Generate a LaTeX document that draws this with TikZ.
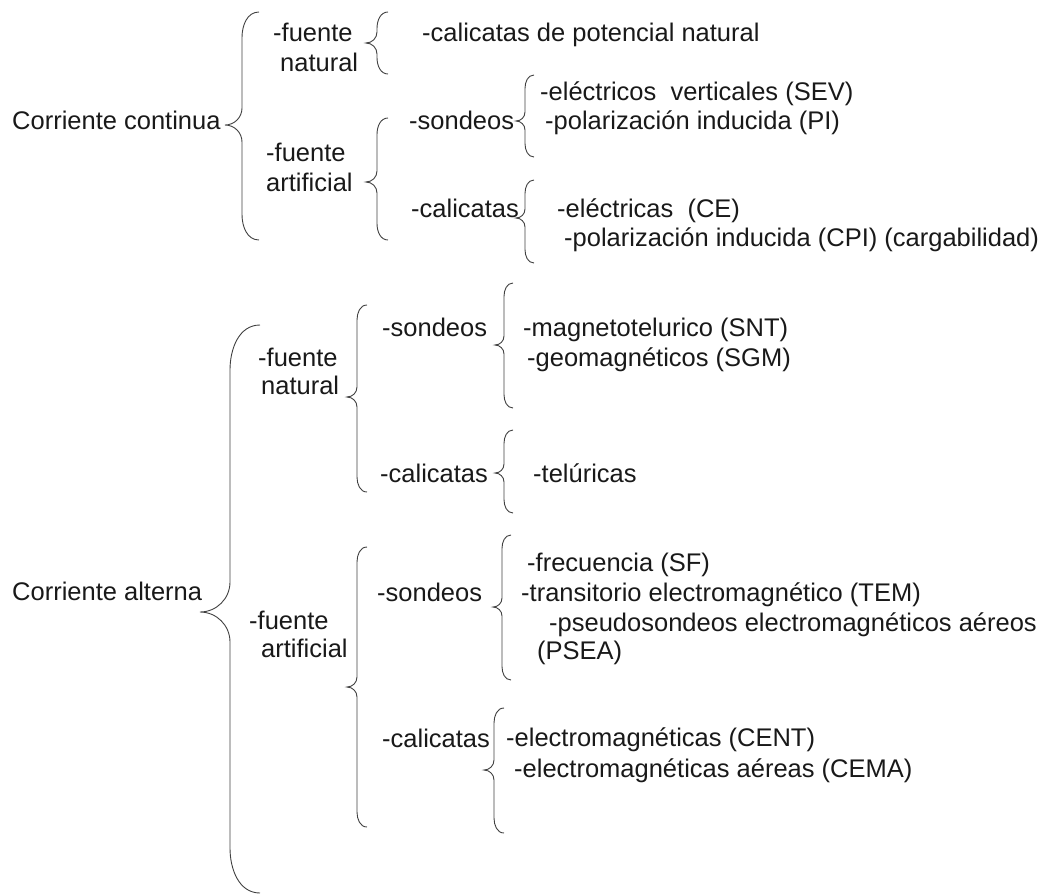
\documentclass[tikz,border=0pt]{standalone}
\usepackage{fontspec}
\setmainfont{Liberation Sans}
\usepackage{xcolor}
\tikzset{
    llave/.style={line width=0.9pt, black!75},
    txt/.style={anchor=base west, inner sep=0pt, text=black!90,
        font=\fontsize{25.5}{30}\selectfont}
}
% brace: x of the line, top, tip, bottom, width
\newcommand{\llave}[5]{%
    \draw[llave] ({#1+#5},#2) to[out=180,in=90] (#1,{#2+1.5*#5})
        -- (#1,{#3-#5}) to[out=-90,in=0] ({#1-#5},#3)
        to[out=0,in=90] (#1,{#3+#5})
        -- (#1,{#4-1.5*#5}) to[out=-90,in=180] ({#1+#5},#4);
}

\begin{document}
\begin{tikzpicture}[x=1pt, y=-1pt]
    % frame
    \useasboundingbox (0, 0) rectangle (1042, 895);
    % corriente continua
    \node[txt] (cc) at (12, 129) {Corriente continua};
    \llave{242}{12}{125}{240}{17}
    \node[txt] (fn1a) at (273, 41) {-fuente};
    \node[txt] (fn1b) at (280, 71) {natural};
    \llave{377}{12}{43}{74}{11}
    \node[txt] (cpn) at (422, 41) {-calicatas de potencial natural};
    \node[txt] (fa1a) at (266, 161) {-fuente};
    \node[txt] (fa1b) at (266, 191) {artificial};
    \llave{377}{118}{182}{240}{11}
    \node[txt] (son1) at (409, 129) {-sondeos};
    \llave{525}{75}{121}{157}{9}
    \node[txt] (sev) at (540, 100) {-eléctricos\ \ verticales (SEV)};
    \node[txt] (pi) at (545, 129) {-polarización inducida (PI)};
    \node[txt] (cal1) at (411, 217) {-calicatas};
    \llave{525}{180}{218}{263}{9}
    \node[txt] (ce) at (557, 217) {-eléctricas\ \ (CE)};
    \node[txt] (cpi) at (564, 246) {-polarización inducida (CPI) (cargabilidad)};
    % corriente alterna
    \node[txt] (ca) at (12, 600) {Corriente alterna};
    \llave{230}{325}{612}{893}{30}
    \node[txt] (fn2a) at (258, 366) {-fuente};
    \node[txt] (fn2b) at (261, 394) {natural};
    \llave{357}{305}{397}{492}{10}
    \node[txt] (son2) at (382, 336) {-sondeos};
    \llave{504}{283}{345}{408}{9}
    \node[txt] (snt) at (523, 336) {-magnetotelurico (SNT)};
    \node[txt] (sgm) at (527, 366) {-geomagnéticos (SGM)};
    \node[txt] (cal2) at (380, 482) {-calicatas};
    \llave{504}{430}{473}{513}{9}
    \node[txt] (tel) at (533, 482) {-telúricas};
    \node[txt] (fa2a) at (249, 629) {-fuente};
    \node[txt] (fa2b) at (261, 657) {artificial};
    \llave{357}{547}{687}{827}{10}
    \node[txt] (son3) at (377, 601) {-sondeos};
    \llave{502}{535}{607}{680}{9}
    \node[txt] (sf) at (527, 571) {-frecuencia (SF)};
    \node[txt] (tem) at (521, 601) {-transitorio electromagnético (TEM)};
    \node[txt] (psea) at (549, 631) {-pseudosondeos electromagnéticos aéreos};
    \node[txt] (psea2) at (537, 659) {(PSEA)};
    \node[txt] (cal3) at (382, 747) {-calicatas};
    \llave{494}{708}{770}{833}{10}
    \node[txt] (cent) at (506, 746) {-electromagnéticas (CENT)};
    \node[txt] (cema) at (514, 777) {-electromagnéticas aéreas (CEMA)};
\end{tikzpicture}
\end{document}
